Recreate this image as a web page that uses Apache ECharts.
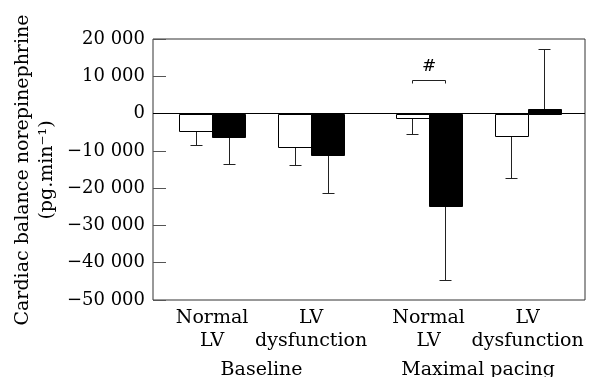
<!DOCTYPE html>
<html>
<head>
<meta charset="utf-8">
<script src="https://cdn.jsdelivr.net/npm/echarts@6/dist/echarts.min.js"></script>
<style>
  html, body { margin: 0; padding: 0; background: #fff; }
  #chart { width: 589px; height: 377px; }
</style>
</head>
<body>
<div id="chart"></div>
<script>
// categories and groups
const categories = ['Normal\nLV', 'LV\ndysfunction', 'Normal\nLV', 'LV\ndysfunction'];
const groups = ['Baseline', 'Maximal pacing'];

// open (white) bars: mean and error
const openMean = [-4700, -9000, -1200, -6100];
const openErr = [3600, 4900, 4300, 11100];

// filled (black) bars: mean and error
const filledMean = [-6400, -11200, -24700, 1300];
const filledErr = [7200, 10100, 20000, 16100];

// y ticks
const yMin = -50000;
const yMax = 20000;
const yStep = 10000;

// significance mark (category index)
const sigCategory = [2];

// layout in bar-width units along x
const groupPos = [1.79, 4.79, 8.35, 11.35];
const xMax = 13.09;
const groupMid = [(groupPos[0] + groupPos[1]) / 2, (groupPos[2] + groupPos[3]) / 2];

const FONT = 'DejaVu Serif';

const chart = echarts.init(document.getElementById('chart'));

function fmt(v) {
  const a = Math.abs(v).toString().replace(/\B(?=(\d{3})+(?!\d))/g, ' ');
  return (v < 0 ? '\u2212' : '') + a;
}

function barItem(offset, fill) {
  return function (params, api) {
    const c = api.value(0);
    const mean = api.value(1);
    const err = api.value(2);
    const x0 = groupPos[c] + offset;
    const p0 = api.coord([x0, 0]);
    const p1 = api.coord([x0 + 1, mean]);
    const cx = Math.round((p0[0] + p1[0]) / 2) + 0.5;
    const end = api.coord([0, mean + (mean >= 0 ? err : -err)]);
    const left = Math.round(p0[0]) + 0.5;
    const right = Math.round(p1[0]) + 0.5;
    const top = Math.round(Math.min(p0[1], p1[1])) + 0.5;
    const bottom = Math.round(Math.max(p0[1], p1[1])) + 0.5;
    const ey = Math.round(end[1]) + 0.5;
    return {
      type: 'group',
      children: [
        {
          type: 'line',
          shape: { x1: cx, y1: mean >= 0 ? top : bottom, x2: cx, y2: ey },
          style: { stroke: '#222', lineWidth: 1 }
        },
        {
          type: 'line',
          shape: { x1: cx - 6, y1: ey, x2: cx + 6, y2: ey },
          style: { stroke: '#222', lineWidth: 1 }
        },
        {
          type: 'rect',
          shape: { x: left, y: top, width: right - left, height: bottom - top },
          style: { fill: fill, stroke: '#000', lineWidth: 1 }
        }
      ]
    };
  };
}

// category + group labels under the axis
function labelItem(params, api) {
  const c = api.value(0);
  const base = api.coord([groupPos[c], yMin]);
  const children = [{
    type: 'text',
    x: base[0], y: base[1] + 7,
    style: {
      text: categories[c], font: '19px ' + FONT, fill: '#000',
      textAlign: 'center', textVerticalAlign: 'top', lineHeight: 23
    }
  }];
  if (c % 2 === 0) {
    const g = c / 2;
    const mid = api.coord([groupMid[g], yMin]);
    children.push({
      type: 'text',
      x: mid[0], y: base[1] + 59,
      style: {
        text: groups[g], font: '19px ' + FONT, fill: '#000',
        textAlign: 'center', textVerticalAlign: 'top', lineHeight: 23
      }
    });
  }
  return { type: 'group', children: children };
}

const option = {
  animation: false,
  textStyle: { fontFamily: FONT, color: '#000' },
  grid: {
    left: 153, right: 4, top: 39, bottom: 77,
    show: true, borderColor: '#333', borderWidth: 1
  },
  xAxis: {
    type: 'value', min: 0, max: xMax,
    splitLine: { show: false },
    axisLine: { show: false },
    axisTick: { show: false },
    axisLabel: { show: false }
  },
  yAxis: {
    type: 'value', min: yMin, max: yMax, interval: yStep,
    splitLine: { show: false },
    axisLine: { show: false },
    axisTick: { show: true, inside: true, length: 13, lineStyle: { color: '#555' } },
    axisLabel: {
      formatter: fmt,
      fontFamily: FONT, fontSize: 18, color: '#000', margin: 8
    }
  },
  graphic: [
    {
      type: 'text',
      x: 35, y: 170,
      rotation: Math.PI / 2,
      style: {
        text: 'Cardiac balance norepinephrine\n(pg.min\u207B\u00B9)',
        font: '19px ' + FONT,
        fill: '#000',
        textAlign: 'center',
        textVerticalAlign: 'middle',
        lineHeight: 24
      }
    }
  ],
  series: [
    {
      type: 'custom',
      name: 'open',
      renderItem: barItem(-1, '#fff'),
      data: openMean.map((m, i) => [i, m, openErr[i]]),
      markLine: {
        silent: true,
        symbol: 'none',
        label: { show: false },
        lineStyle: { color: '#000', width: 1, type: 'solid' },
        data: [{ yAxis: 0 }]
      },
      z: 3
    },
    {
      type: 'custom',
      name: 'filled',
      renderItem: barItem(0, '#000'),
      data: filledMean.map((m, i) => [i, m, filledErr[i]]),
      z: 4
    },
    {
      type: 'custom',
      name: 'sig',
      renderItem: function (params, api) {
        const c = api.value(0);
        const a = api.coord([groupPos[c] - 0.5, 9000]);
        const b = api.coord([groupPos[c] + 0.5, 9000]);
        const y = Math.round(a[1]) + 0.5;
        const x1 = Math.round(a[0]) + 0.5;
        const x2 = Math.round(b[0]) + 0.5;
        return {
          type: 'group',
          children: [
            {
              type: 'polyline',
              shape: { points: [[x1, y + 3], [x1, y], [x2, y], [x2, y + 3]] },
              style: { stroke: '#222', lineWidth: 1, fill: null }
            },
            {
              type: 'text',
              x: (x1 + x2) / 2, y: y - 14,
              style: {
                text: '#', font: '17px ' + FONT, fill: '#000',
                textAlign: 'center', textVerticalAlign: 'middle'
              }
            }
          ]
        };
      },
      data: sigCategory.map(c => [c]),
      z: 5
    },
    {
      type: 'custom',
      name: 'labels',
      clip: false,
      silent: true,
      renderItem: labelItem,
      data: categories.map((c, i) => [i]),
      z: 2
    }
  ]
};

chart.setOption(option);
</script>
</body>
</html>
